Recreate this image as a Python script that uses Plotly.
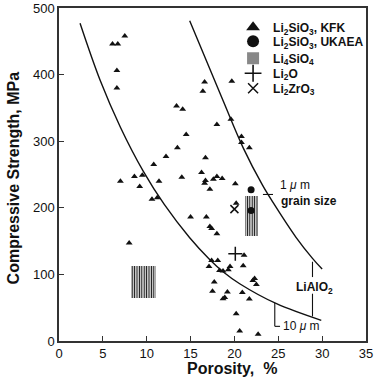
import plotly.graph_objects as go

# --- data ---
kfk_x = [7.5, 6.1, 6.7, 6.6, 6.6, 13.4, 14.1, 14.5, 13.5, 12.2, 10.8,
         7.0, 8.6, 9.5, 9.2, 11.4, 14.0, 10.6, 11.2, 8.0,
         16.6, 16.4, 19.7, 18.0, 19.6, 20.8, 20.8, 21.7, 16.7, 16.25, 16.7, 16.6,
         17.6, 18.0, 18.6, 17.2, 20.1, 20.2, 15.0, 16.8, 17.2, 17.4, 18.0,
         21.1, 17.4, 18.1, 17.1, 18.3, 18.7, 19.5, 19.3, 21.0, 22.3, 22.1, 22.5,
         17.7, 17.5, 19.2, 20.9, 18.7, 18.9, 21.7, 20.2, 20.6, 22.7]
kfk_y = [458, 446, 446, 406, 380, 353, 348, 310, 290, 277, 265,
         240, 247, 249, 232, 240, 246, 213, 215, 147,
         389, 375, 390, 325, 333, 307, 298, 290, 275, 253, 241, 237,
         243, 247, 244, 228, 236, 207, 186, 186, 172, 169, 161,
         128.6, 121, 121, 112, 106, 105, 112, 107, 113, 94, 91, 85,
         88.5, 74.6, 73.5, 73, 63.6, 65.5, 63, 41, 15, 10]

ukaea_x = [21.9, 21.9]
ukaea_y = [227, 196]

li2o_x = [20.1]
li2o_y = [131]

li2zro3_x = [20.0]
li2zro3_y = [198]

# Li4SiO4 ranges (porosity min/max, strength min/max)
li4sio4_xmin = [8.2, 21.2]
li4sio4_xmax = [11.1, 22.7]
li4sio4_ymin = [65, 158]
li4sio4_ymax = [112, 218]

# curves
curve10_x = [2.4, 4.7, 7.0, 9.6, 12.0, 14.9, 17.2, 18.7, 20.6, 24.8, 29.9]
curve10_y = [477, 391, 321, 255, 205, 155, 122, 104, 86, 56, 31]
curve1_x = [14.9, 18.7, 21.0, 23.2, 24.4, 27.0, 28.9, 30.0]
curve1_y = [481, 361, 290, 234, 208, 156, 124, 108]

x_ticks = [0, 5, 10, 15, 20, 25, 30, 35]
y_ticks = [0, 100, 200, 300, 400, 500]

BLACK = "#111111"
FONT = "Liberation Sans, Arial, Helvetica, sans-serif"

fig = go.Figure()

fig.add_trace(go.Scatter(x=curve10_x, y=curve10_y, mode="lines",
                         line=dict(color=BLACK, width=1.4, shape="spline", smoothing=1.0),
                         showlegend=False, hoverinfo="skip"))
fig.add_trace(go.Scatter(x=curve1_x, y=curve1_y, mode="lines",
                         line=dict(color=BLACK, width=1.4, shape="spline", smoothing=1.0),
                         showlegend=False, hoverinfo="skip"))

# Li4SiO4 hatched boxes
fig.add_trace(go.Bar(
    x=[(a + b) / 2 for a, b in zip(li4sio4_xmin, li4sio4_xmax)],
    width=[b - a for a, b in zip(li4sio4_xmin, li4sio4_xmax)],
    base=li4sio4_ymin,
    y=[b - a for a, b in zip(li4sio4_ymin, li4sio4_ymax)],
    marker=dict(color="white", line=dict(width=0),
                pattern=dict(shape="|", size=2.4, solidity=0.5,
                             fgcolor=BLACK, bgcolor="white", fillmode="replace")),
    name="<b>Li<sub>4</sub>SiO<sub>4</sub></b>", legend="legend3",
    showlegend=True, hoverinfo="skip"))

fig.add_trace(go.Scatter(x=kfk_x, y=kfk_y, mode="markers",
                         marker=dict(symbol="triangle-up", size=6, color=BLACK),
                         showlegend=False))
fig.add_trace(go.Scatter(x=ukaea_x, y=ukaea_y, mode="markers",
                         marker=dict(symbol="circle", size=7, color=BLACK),
                         showlegend=False))
fig.add_trace(go.Scatter(x=li2o_x, y=li2o_y, mode="markers",
                         marker=dict(symbol="cross-thin", size=10,
                                     line=dict(color=BLACK, width=1.5)),
                         showlegend=False))
fig.add_trace(go.Scatter(x=li2zro3_x, y=li2zro3_y, mode="markers",
                         marker=dict(symbol="x-thin", size=8,
                                     line=dict(color=BLACK, width=1.5)),
                         showlegend=False))

# legend entries
fig.add_trace(go.Scatter(x=[None], y=[None], mode="markers", legend="legend",
                         marker=dict(symbol="triangle-up", size=12, color=BLACK),
                         name="<b>Li<sub>2</sub>SiO<sub>3</sub>, KFK</b>"))
fig.add_trace(go.Scatter(x=[None], y=[None], mode="markers", legend="legend2",
                         marker=dict(symbol="circle", size=12, color=BLACK),
                         name="<b>Li<sub>2</sub>SiO<sub>3</sub>, UKAEA</b>"))
fig.add_trace(go.Scatter(x=[None], y=[None], mode="markers", legend="legend4",
                         marker=dict(symbol="cross-thin", size=12,
                                     line=dict(color=BLACK, width=1.6)),
                         name="<b>Li<sub>2</sub>O</b>"))
fig.add_trace(go.Scatter(x=[None], y=[None], mode="markers", legend="legend5",
                         marker=dict(symbol="x-thin", size=10,
                                     line=dict(color=BLACK, width=1.5)),
                         name="<b>Li<sub>2</sub>ZrO<sub>3</sub></b>"))

axis_common = dict(showline=True, linecolor="#333333", linewidth=1.5, mirror=True,
                   ticks="inside", ticklen=5, tickwidth=1.2, tickcolor="#333333",
                   showgrid=False, zeroline=False, automargin=False,
                   tickfont=dict(family=FONT, size=13, color=BLACK))

fig.update_xaxes(range=[0, 35], tickvals=x_ticks, **axis_common)
fig.update_yaxes(range=[0, 500], tickvals=y_ticks, **axis_common)

ann_font = dict(family=FONT, size=12, color=BLACK)
annotations = [
    dict(x=25.0, y=234, text="1 <i>μ</i> m", xanchor="left", yanchor="middle",
         showarrow=False, font=ann_font),
    dict(x=25.1, y=210, text="<b>grain size</b>", xanchor="left", yanchor="middle",
         showarrow=False, font=ann_font),
    dict(x=29.1, y=80, text="<b>LiAlO<sub>2</sub></b>", xanchor="center", yanchor="middle",
         showarrow=False, font=ann_font),
    dict(x=25.3, y=22, text="10 <i>μ</i> m", xanchor="left", yanchor="middle",
         showarrow=False, font=ann_font),
    dict(xref="paper", yref="paper", x=0.565, y=-0.083, text="<b>Porosity,  %</b>",
         xanchor="center", yanchor="middle", showarrow=False,
         font=dict(family=FONT, size=16, color=BLACK)),
    dict(xref="paper", yref="paper", x=-0.148, y=0.49, text="<b>Compressive Strength, MPa</b>",
         textangle=-90, xanchor="center", yanchor="middle", showarrow=False,
         font=dict(family=FONT, size=16, color=BLACK)),
]

line_style = dict(color=BLACK, width=1.1)
shapes = [
    dict(type="line", x0=23.25, x1=24.4, y0=220, y1=220, line=line_style),
    dict(type="line", x0=28.9, x1=28.9, y0=119, y1=96, line=line_style),
    dict(type="line", x0=28.9, x1=28.9, y0=71, y1=37, line=line_style),
    dict(type="line", x0=24.6, x1=24.6, y0=57, y1=22, line=line_style),
    dict(type="line", x0=24.6, x1=25.2, y0=22, y1=22, line=line_style),
]

leg_common = dict(x=0.567, xanchor="left", yanchor="middle",
                  bgcolor="rgba(0,0,0,0)", borderwidth=0, itemwidth=30,
                  font=dict(family=FONT, size=12, color=BLACK))

fig.update_layout(
    width=380, height=387,
    margin=dict(l=59, r=14, t=8, b=46, autoexpand=False),
    paper_bgcolor="white", plot_bgcolor="white",
    font=dict(family=FONT, color=BLACK),
    showlegend=True,
    legend=dict(y=0.942, **leg_common),
    legend2=dict(y=0.900, **leg_common),
    legend3=dict(y=0.849, **leg_common),
    legend4=dict(y=0.804, **leg_common),
    legend5=dict(y=0.759, **leg_common),
    annotations=annotations, shapes=shapes,
    bargap=0,
)

fig.write_html("out.html", config={"displayModeBar": False},
               post_script="document.body.style.margin='0px';")
